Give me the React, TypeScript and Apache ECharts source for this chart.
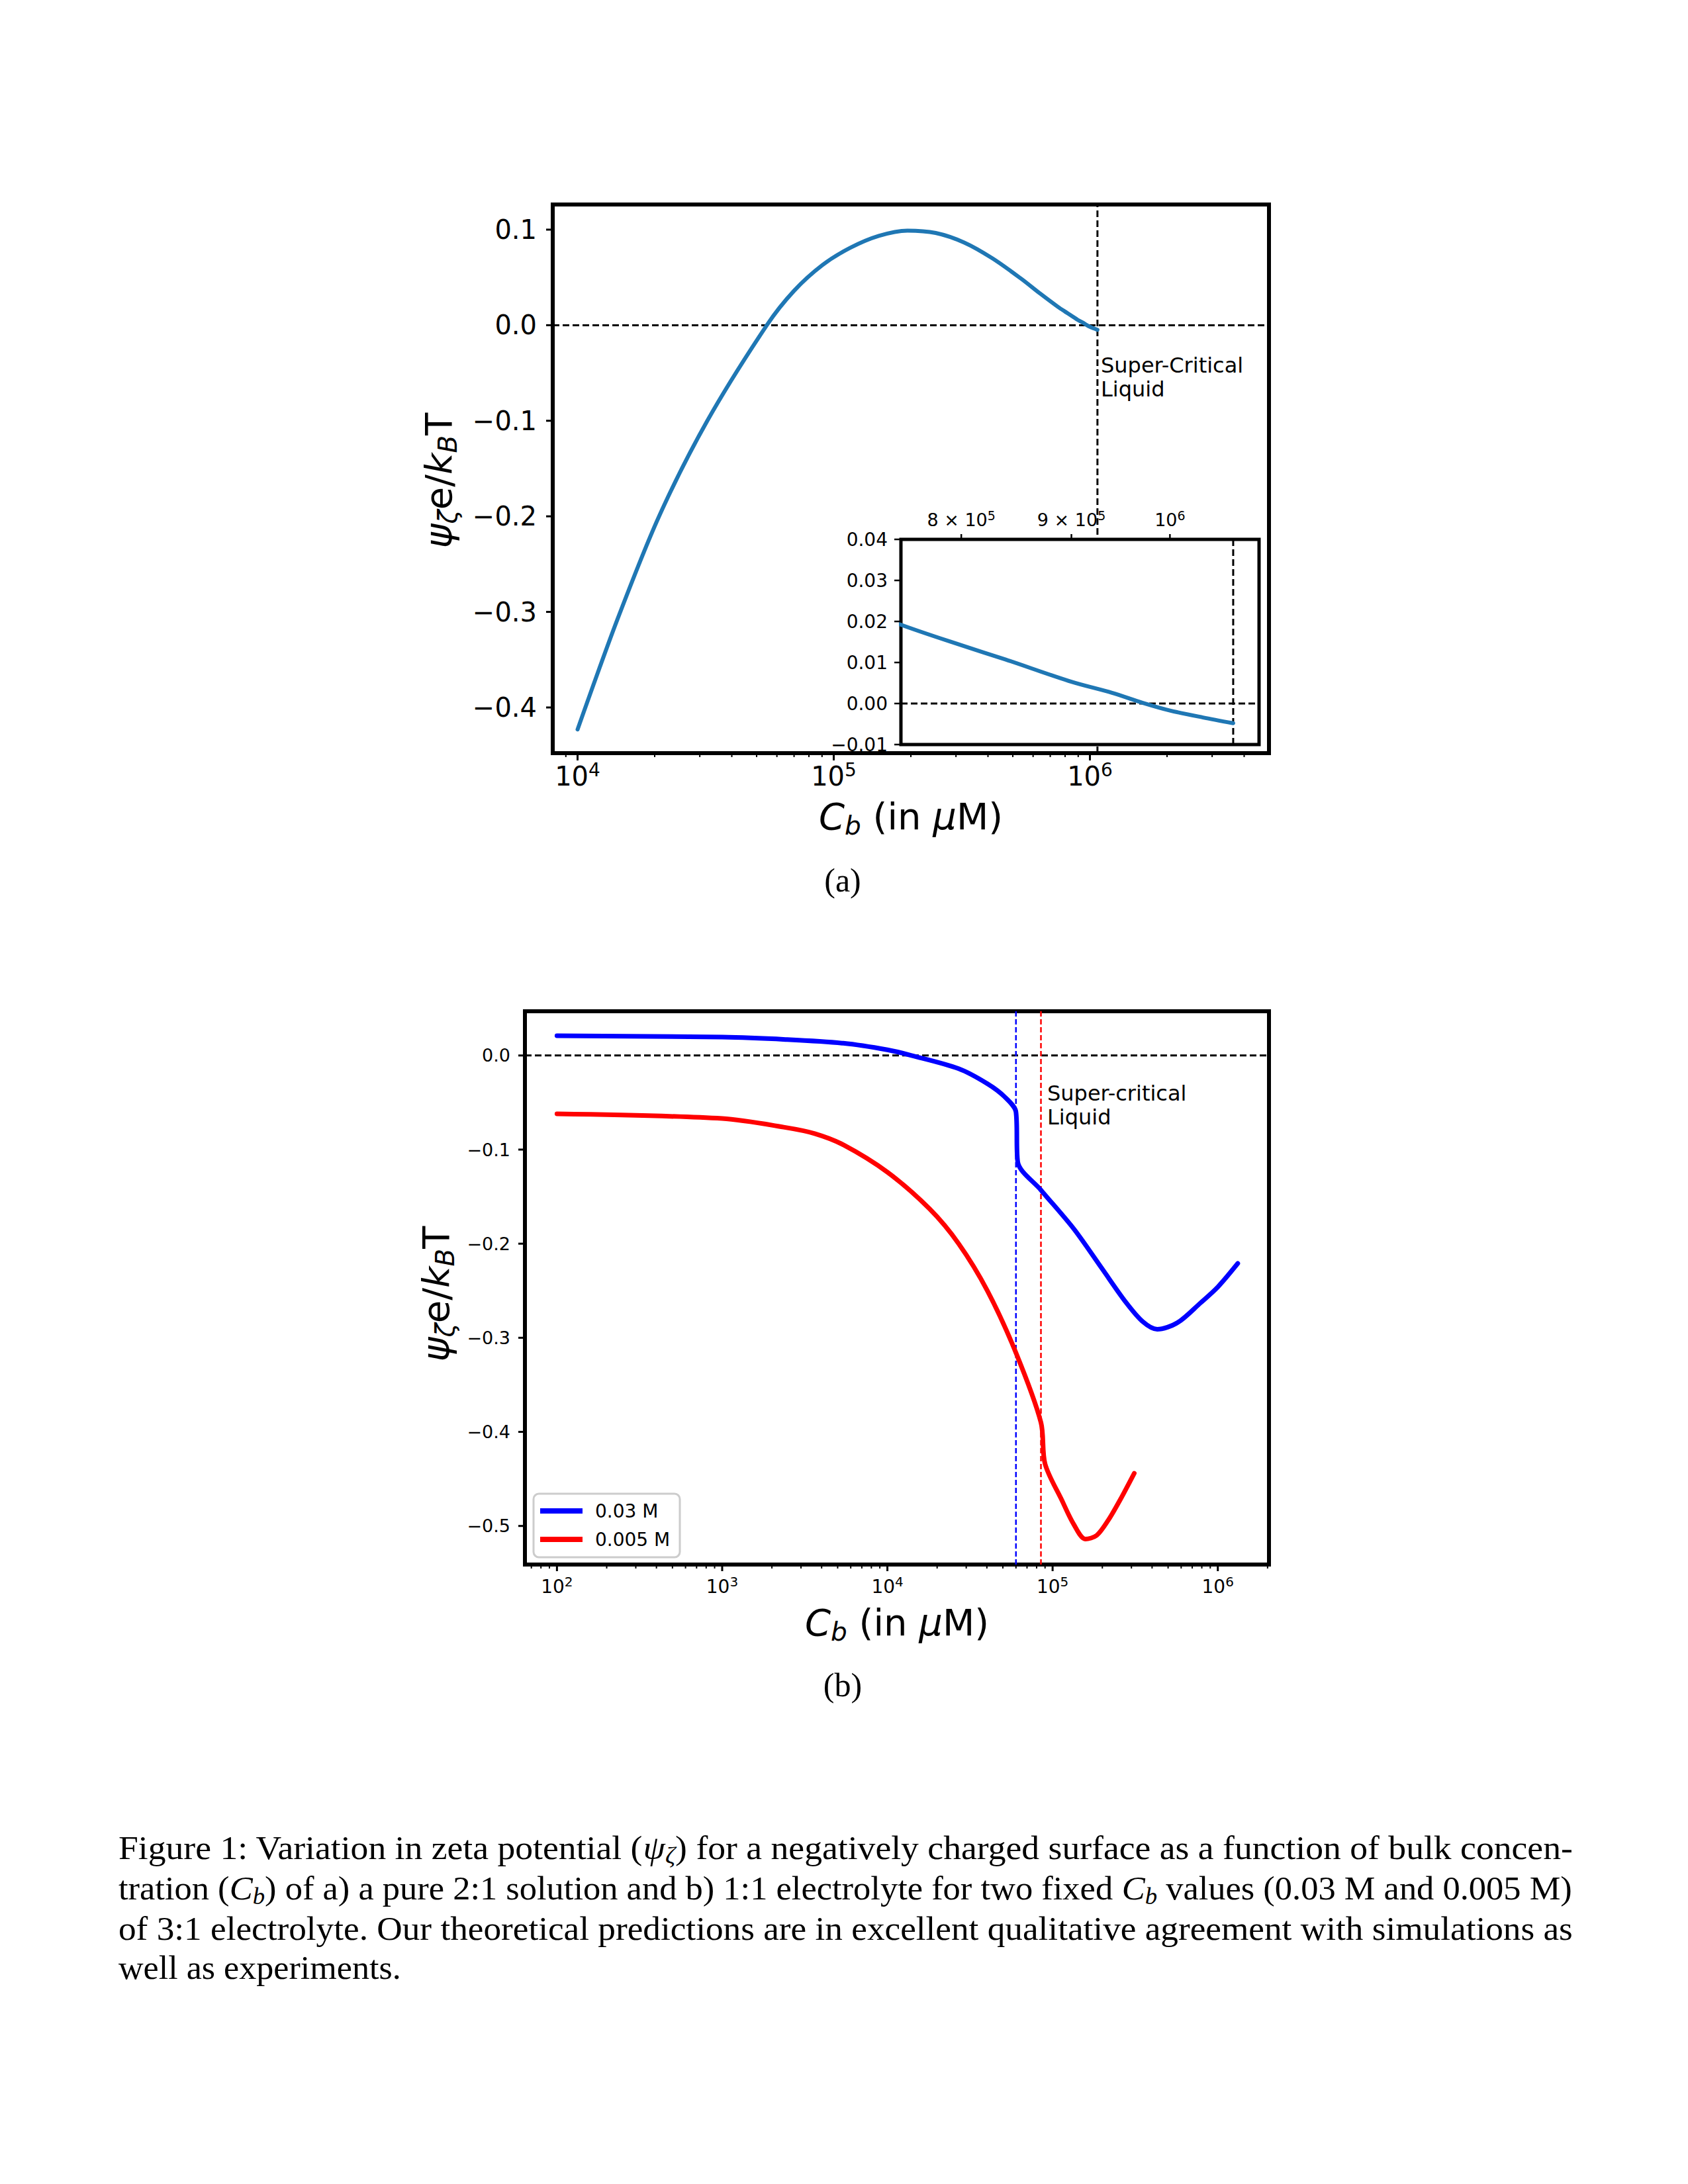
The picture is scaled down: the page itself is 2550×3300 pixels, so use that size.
import React, { useEffect, useRef } from 'react';
import * as echarts from 'echarts';

const FONT = 'DejaVu Sans';
const SERIF = 'Liberation Serif';

// ---------------- Panel (a): pure 2:1 solution ----------------
const A_CB = [1.0e4, 1.43e4, 2.08e4, 3.21e4, 5.48e4, 7.0e4, 9.04e4, 1.16e5, 1.5e5, 1.94e5, 2.5e5, 3.23e5, 4.16e5, 5.37e5, 6.4e5, 7.5e5, 8.0e5, 8.39e5, 9.0e5, 9.4e5, 9.71e5, 1.0e6, 1.036e6, 1.07e6];
const A_PSI = [-0.423, -0.308, -0.2, -0.1, 0.0, 0.036, 0.063, 0.081, 0.0935, 0.099, 0.0965, 0.0865, 0.07, 0.049, 0.033, 0.0192, 0.0142, 0.0107, 0.0053, 0.0026, 0.0002, -0.0017, -0.0034, -0.0048];
const A_CRITICAL = 1.07e6;
const A_X_RANGE = [8e3, 5e6];
const A_Y_RANGE = [-0.4478, 0.1263];
const A_X_TICKS = [1e4, 1e5, 1e6];
const A_Y_TICKS = [0.1, 0.0, -0.1, -0.2, -0.3, -0.4];
const A_Y_LABELS = ['0.1', '0.0', '−0.1', '−0.2', '−0.3', '−0.4'];

// inset of panel (a)
const IN_X_RANGE = [7.5e5, 1.1e6];
const IN_Y_RANGE = [-0.01, 0.04];
const IN_X_TICKS = [8e5, 9e5, 1e6];
const IN_X_LABELS = ['{b|8 × 10}{s|5}', '{b|9 × 10}{s|5}', '{b|10}{s|6}'];
const IN_Y_TICKS = [0.04, 0.03, 0.02, 0.01, 0.0, -0.01];
const IN_Y_LABELS = ['0.04', '0.03', '0.02', '0.01', '0.00', '−0.01'];

// ---------------- Panel (b): 1:1 electrolyte ----------------
const B_NAMES = ['0.03 M', '0.005 M'];
const B_COLORS = ['#0000ff', '#ff0000'];
const B_BLUE_CB = [100, 1000, 2420, 5400, 1e4, 1.4e4, 2.7e4, 4.03e4, 5.13e4, 6.0e4, 6.15e4, 8.5e4, 1.34e5, 2.0e5, 2.77e5, 3.52e5, 4.3e5, 5.7e5, 7.85e5, 1.0e6, 1.32e6];
const B_BLUE_PSI = [0.021, 0.0195, 0.017, 0.013, 0.006, 0.0, -0.014, -0.03, -0.044, -0.06, -0.113, -0.143, -0.184, -0.227, -0.262, -0.283, -0.291, -0.284, -0.263, -0.246, -0.221];
const B_RED_CB = [100, 1000, 2420, 3630, 5420, 1e4, 1.8e4, 2.7e4, 4.03e4, 6.0e4, 8.5e4, 9.0e4, 1.14e5, 1.34e5, 1.58e5, 1.85e5, 2.17e5, 2.55e5, 3.12e5];
const B_RED_PSI = [-0.062, -0.067, -0.0765, -0.083, -0.095, -0.124, -0.163, -0.2, -0.25, -0.316, -0.39, -0.434, -0.473, -0.498, -0.514, -0.51, -0.494, -0.473, -0.444];
const B_CRITICAL = [6.0e4, 8.5e4];
const B_X_RANGE = [64, 2.04e6];
const B_Y_RANGE = [-0.541, 0.047];
const B_X_TICKS = [1e2, 1e3, 1e4, 1e5, 1e6];
const B_Y_TICKS = [0.0, -0.1, -0.2, -0.3, -0.4, -0.5];
const B_Y_LABELS = ['0.0', '−0.1', '−0.2', '−0.3', '−0.4', '−0.5'];

const MINOR_MULT = [2, 3, 4, 5, 6, 7, 8, 9];
const DECADES = [1e1, 1e2, 1e3, 1e4, 1e5, 1e6];

const CAPTION = [
  '{n|Figure 1: Variation in zeta potential (}{i|ψ}{s|ζ}{n|) for a negatively charged surface as a function of bulk concen-}',
  '{n|tration (}{i|C}{s|b}{n|) of a) a pure 2:1 solution and b) 1:1 electrolyte for two fixed }{i|C}{s|b}{n| values (0.03 M and 0.005 M)}',
  '{n|of 3:1 electrolyte. Our theoretical predictions are in excellent qualitative agreement with simulations as}',
  '{n|well as experiments.}',
];
const CAPTION_Y = [2792, 2853, 2914, 2973];
const CAPTION_SCALE_X = [1.073, 1.05, 1.065, 1.042];

// ---------------- layout ----------------
const GRID_A = { left: 835, top: 309, width: 1082, height: 829 };
const GRID_IN = { left: 1361, top: 815, width: 541, height: 310 };
const GRID_B = { left: 793, top: 1528, width: 1124, height: 836 };

function supRich(F: number) {
  return {
    b: { fontSize: F, fontFamily: FONT, lineHeight: Math.round(F * 1.2), fill: '#000' },
    s: { fontSize: Math.round(F * 0.7), fontFamily: FONT, lineHeight: Math.round(F * 0.74), verticalAlign: 'top', fill: '#000' },
  };
}

function mathRich(F: number, family: string, drop: number) {
  const s = Math.round(F * 0.7);
  const Lm = Math.round(F * 1.2);
  return {
    n: { fontSize: F, fontFamily: family, lineHeight: Lm, fill: '#000' },
    i: { fontSize: F, fontFamily: family, fontStyle: 'italic', lineHeight: Lm, fill: '#000' },
    s: { fontSize: s, fontFamily: family, fontStyle: 'italic', lineHeight: Math.max(4, Math.round(Lm - 2 * (drop * F + 0.3 * F - 0.3 * s))), verticalAlign: 'bottom', fill: '#000' },
  };
}

function minorTicks(range: number[]) {
  const out: number[] = [];
  DECADES.forEach((d) => MINOR_MULT.forEach((m) => {
    const v = d * m;
    if (v > range[0] && v < range[1]) out.push(v);
  }));
  return out;
}

function xTicks(axis: number, yEdge: number, values: number[], labels: (string | null)[], o: any) {
  const rich = supRich(o.fontSize);
  return {
    type: 'custom', xAxisIndex: axis, yAxisIndex: axis, z: o.z, silent: true, clip: false,
    data: values.map((v) => [v, yEdge]),
    renderItem: (params: any, api: any) => {
      const p = api.coord([api.value(0), api.value(1)]);
      const lab = labels[params.dataIndex];
      const children: any[] = [
        { type: 'line', shape: { x1: p[0], y1: p[1], x2: p[0], y2: p[1] + o.dir * o.len }, style: { stroke: '#000', lineWidth: o.width } },
      ];
      if (lab) {
        children.push({
          type: 'text', x: p[0], y: p[1] + o.dir * (o.len + o.gap),
          style: { text: lab, rich, align: 'center', verticalAlign: 'middle', fontSize: o.fontSize, fontFamily: FONT, fill: '#000' },
        });
      }
      return { type: 'group', children };
    },
  };
}

function yTicks(axis: number, xEdge: number, values: number[], labels: string[], o: any) {
  return {
    type: 'custom', xAxisIndex: axis, yAxisIndex: axis, z: o.z, silent: true, clip: false,
    data: values.map((v) => [xEdge, v]),
    renderItem: (params: any, api: any) => {
      const p = api.coord([api.value(0), api.value(1)]);
      return {
        type: 'group',
        children: [
          { type: 'line', shape: { x1: p[0], y1: p[1], x2: p[0] - o.len, y2: p[1] }, style: { stroke: '#000', lineWidth: o.width } },
          {
            type: 'text', x: p[0] - o.len - o.gap, y: p[1],
            style: { text: labels[params.dataIndex], align: 'right', verticalAlign: 'middle', fontSize: o.fontSize, fontFamily: FONT, fill: '#000' },
          },
        ],
      };
    },
  };
}

function dashLine(axis: number, pts: number[][], color: string, width: number, dash: number[], z: number) {
  return {
    type: 'line', xAxisIndex: axis, yAxisIndex: axis, data: pts, showSymbol: false, silent: true, z,
    lineStyle: { color, width, type: dash }, emphasis: { disabled: true },
  };
}

function curve(axis: number, name: string, xs: number[], ys: number[], color: string, width: number, z: number) {
  return {
    type: 'line', name, xAxisIndex: axis, yAxisIndex: axis, data: xs.map((x, i) => [x, ys[i]]),
    showSymbol: false, smooth: 0.3, z, silent: true,
    lineStyle: { color, width, cap: 'round', join: 'round' }, itemStyle: { color },
  };
}

export default function App() {
  const ref = useRef<HTMLDivElement>(null);
  useEffect(() => {
    if (!ref.current) return;
    const chart = echarts.init(ref.current, undefined, { renderer: 'svg' });

    const axisBase = { show: false, splitLine: { show: false } };
    const xName = '{i|C}{s|b}{n| (in }{i|μ}{n|M)}';
    const yName = '{i|ψ}{s|ζ}{n|e/}{i|k}{s|B}{n|T}';
    const nameRich = mathRich(56, FONT, 0.3);
    const capRich = mathRich(50, SERIF, 0.22);

    const graphics: any[] = [
      { type: 'text', x: 1376, y: 1233, z: 30, style: { text: xName, rich: nameRich, align: 'center', verticalAlign: 'middle' } },
      { type: 'text', x: 1355, y: 2451, z: 30, style: { text: xName, rich: nameRich, align: 'center', verticalAlign: 'middle' } },
      { type: 'text', x: 662, y: 726, rotation: Math.PI / 2, z: 30, style: { text: yName, rich: nameRich, align: 'center', verticalAlign: 'middle' } },
      { type: 'text', x: 658, y: 1955, rotation: Math.PI / 2, z: 30, style: { text: yName, rich: nameRich, align: 'center', verticalAlign: 'middle' } },
      { type: 'text', x: 1663, y: 534, z: 30, style: { text: 'Super-Critical\nLiquid', fontSize: 32, fontFamily: FONT, lineHeight: 36, align: 'left', verticalAlign: 'top', fill: '#000' } },
      { type: 'text', x: 1582, y: 1634, z: 30, style: { text: 'Super-critical\nLiquid', fontSize: 32, fontFamily: FONT, lineHeight: 36, align: 'left', verticalAlign: 'top', fill: '#000' } },
      { type: 'text', x: 1273, y: 1330, z: 30, style: { text: '(a)', fontSize: 50, fontFamily: SERIF, align: 'center', verticalAlign: 'middle', fill: '#000' } },
      { type: 'text', x: 1273, y: 2546, z: 30, style: { text: '(b)', fontSize: 50, fontFamily: SERIF, align: 'center', verticalAlign: 'middle', fill: '#000' } },
      // legend
      { type: 'rect', z: 40, shape: { x: 806, y: 2257, width: 221, height: 96, r: 8 }, style: { fill: '#ffffff', stroke: '#cccccc', lineWidth: 3 } },
      { type: 'line', z: 41, shape: { x1: 816, y1: 2283, x2: 880, y2: 2283 }, style: { stroke: B_COLORS[0], lineWidth: 8 } },
      { type: 'text', z: 41, x: 899, y: 2283, style: { text: B_NAMES[0], fontSize: 28, fontFamily: FONT, align: 'left', verticalAlign: 'middle', fill: '#000' } },
      { type: 'line', z: 41, shape: { x1: 816, y1: 2326, x2: 880, y2: 2326 }, style: { stroke: B_COLORS[1], lineWidth: 8 } },
      { type: 'text', z: 41, x: 899, y: 2326, style: { text: B_NAMES[1], fontSize: 28, fontFamily: FONT, align: 'left', verticalAlign: 'middle', fill: '#000' } },
    ];
    CAPTION.forEach((t, i) => {
      graphics.push({ type: 'text', x: 179, y: CAPTION_Y[i], scaleX: CAPTION_SCALE_X[i], z: 30, style: { text: t, rich: capRich, align: 'left', verticalAlign: 'middle' } });
    });

    const option: any = {
      animation: false,
      backgroundColor: '#ffffff',
      grid: [
        { ...GRID_A, show: true, borderColor: '#000', borderWidth: 6, z: 1 },
        { ...GRID_IN, show: true, borderColor: '#000', borderWidth: 5, backgroundColor: '#fff', z: 10 },
        { ...GRID_B, show: true, borderColor: '#000', borderWidth: 6, z: 1 },
      ],
      xAxis: [
        { ...axisBase, type: 'log', logBase: 10, gridIndex: 0, min: A_X_RANGE[0], max: A_X_RANGE[1] },
        { ...axisBase, type: 'log', logBase: 10, gridIndex: 1, min: IN_X_RANGE[0], max: IN_X_RANGE[1] },
        { ...axisBase, type: 'log', logBase: 10, gridIndex: 2, min: B_X_RANGE[0], max: B_X_RANGE[1] },
      ],
      yAxis: [
        { ...axisBase, type: 'value', gridIndex: 0, min: A_Y_RANGE[0], max: A_Y_RANGE[1] },
        { ...axisBase, type: 'value', gridIndex: 1, min: IN_Y_RANGE[0], max: IN_Y_RANGE[1] },
        { ...axisBase, type: 'value', gridIndex: 2, min: B_Y_RANGE[0], max: B_Y_RANGE[1] },
      ],
      graphic: { elements: graphics },
      series: [
        // panel (a)
        dashLine(0, [[A_X_RANGE[0], 0], [A_X_RANGE[1], 0]], '#000', 3, [10, 5], 3),
        dashLine(0, [[A_CRITICAL, A_Y_RANGE[0]], [A_CRITICAL, A_Y_RANGE[1]]], '#000', 3, [10, 5], 3),
        curve(0, 'a', A_CB, A_PSI, '#1f77b4', 6, 4),
        xTicks(0, A_Y_RANGE[0], A_X_TICKS, A_X_TICKS.map((v) => `{b|10}{s|${Math.round(Math.log10(v))}}`), { len: 11, width: 3, fontSize: 40, dir: 1, gap: 24, z: 5 }),
        xTicks(0, A_Y_RANGE[0], minorTicks(A_X_RANGE), [], { len: 6, width: 2, fontSize: 40, dir: 1, gap: 0, z: 5 }),
        yTicks(0, A_X_RANGE[0], A_Y_TICKS, A_Y_LABELS, { len: 10, width: 3, fontSize: 40, gap: 14, z: 5 }),
        // inset
        dashLine(1, [[IN_X_RANGE[0], 0], [IN_X_RANGE[1], 0]], '#000', 3, [10, 5], 12),
        dashLine(1, [[A_CRITICAL, IN_Y_RANGE[0]], [A_CRITICAL, IN_Y_RANGE[1]]], '#000', 3, [10, 5], 12),
        curve(1, 'a-inset', A_CB, A_PSI, '#1f77b4', 6, 13),
        xTicks(1, IN_Y_RANGE[1], IN_X_TICKS, IN_X_LABELS, { len: 8, width: 2.5, fontSize: 27, dir: -1, gap: 22, z: 14 }),
        yTicks(1, IN_X_RANGE[0], IN_Y_TICKS, IN_Y_LABELS, { len: 10, width: 2.5, fontSize: 28, gap: 10, z: 14 }),
        // panel (b)
        dashLine(2, [[B_X_RANGE[0], 0], [B_X_RANGE[1], 0]], '#000', 3, [10, 5], 3),
        dashLine(2, [[B_CRITICAL[0], B_Y_RANGE[0]], [B_CRITICAL[0], B_Y_RANGE[1]]], B_COLORS[0], 2.5, [8, 4], 3),
        dashLine(2, [[B_CRITICAL[1], B_Y_RANGE[0]], [B_CRITICAL[1], B_Y_RANGE[1]]], B_COLORS[1], 2.5, [8, 4], 3),
        curve(2, B_NAMES[0], B_BLUE_CB, B_BLUE_PSI, B_COLORS[0], 7, 4),
        curve(2, B_NAMES[1], B_RED_CB, B_RED_PSI, B_COLORS[1], 7, 4),
        xTicks(2, B_Y_RANGE[0], B_X_TICKS, B_X_TICKS.map((v) => `{b|10}{s|${Math.round(Math.log10(v))}}`), { len: 10, width: 3, fontSize: 28, dir: 1, gap: 23, z: 5 }),
        xTicks(2, B_Y_RANGE[0], minorTicks(B_X_RANGE), [], { len: 6, width: 2, fontSize: 28, dir: 1, gap: 0, z: 5 }),
        yTicks(2, B_X_RANGE[0], B_Y_TICKS, B_Y_LABELS, { len: 10, width: 3, fontSize: 27, gap: 12, z: 5 }),
      ],
    };
    chart.setOption(option);
    return () => chart.dispose();
  }, []);

  return (
    <div
      ref={ref}
      style={{ position: 'absolute', left: 0, top: 0, width: 2550, height: 3300, background: '#fff' }}
    />
  );
}
